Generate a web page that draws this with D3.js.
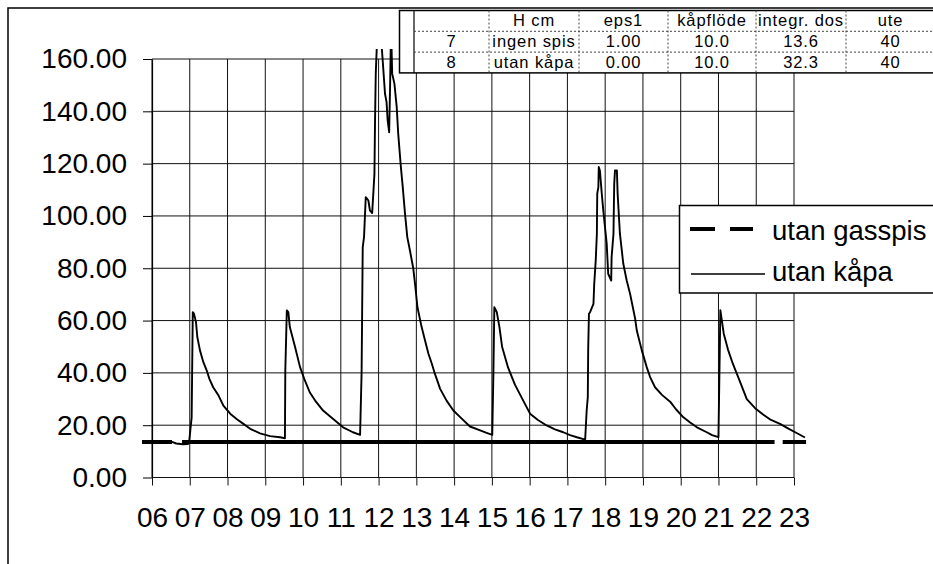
<!DOCTYPE html>
<html>
<head>
<meta charset="utf-8">
<script src="https://cdn.jsdelivr.net/npm/d3@7"></script>
<style>
  body { margin: 0; background: #fff; }
  svg { display: block; font-family: "Liberation Sans", Arial, sans-serif; }
</style>
</head>
<body>
<svg id="chart" width="933" height="564"></svg>
<script>
// ---- data ----
const hourTicks  = [6, 7, 8, 9, 10, 11, 12, 13, 14, 15, 16, 17, 18, 19, 20, 21, 22, 23];
const hourLabels = ["06","07","08","09","10","11","12","13","14","15","16","17","18","19","20","21","22","23"];
const levelTicks = [0, 20, 40, 60, 80, 100, 120, 140, 160];
const seriesNames = ["utan gasspis", "utan kåpa"];

// reference level without gas stove (null = break in the line)
const gasspisTime  = [5.735, 6.53, 6.66, 6.795, 22.485, 22.59, 22.70, 23.32];
const gasspisLevel = [13.6, 13.6, null, 13.6, 13.6, null, 13.6, 13.6];

// level without hood, hour of day
const kapaTime = [
  5.735, 6.53, 6.64, 6.82, 6.95, 6.985, 7.05, 7.08, 7.11, 7.165, 7.2, 7.27, 7.36, 7.45, 7.52,
  7.62, 7.76, 7.89, 8.07, 8.24, 8.42, 8.6, 8.86, 9.125, 9.39, 9.52, 9.53, 9.57, 9.61, 9.65,
  9.79, 9.92, 10.05, 10.18, 10.32, 10.53, 10.79, 11.06, 11.32, 11.51, 11.55, 11.58, 11.615,
  11.66, 11.73, 11.77, 11.83, 11.86, 11.89, 11.905, 11.925, 12.0, 12.17, 12.21, 12.24, 12.28,
  12.305, 12.33, 12.36, 12.42, 12.48, 12.52, 12.59, 12.64, 12.70, 12.76, 12.83, 12.92, 12.965,
  13.03, 13.14, 13.23, 13.32, 13.41, 13.49, 13.63, 13.80, 13.98, 14.16, 14.42, 14.69, 14.86,
  15.01, 15.04, 15.065, 15.13, 15.20, 15.27, 15.43, 15.61, 15.83, 16.01, 16.22, 16.45, 16.67,
  16.89, 17.07, 17.25, 17.47, 17.51, 17.54, 17.55, 17.57, 17.60, 17.69, 17.71, 17.75, 17.78,
  17.79, 17.82, 17.83, 17.86, 17.91, 17.95, 18.04, 18.08, 18.16, 18.17, 18.22, 18.23, 18.24,
  18.26, 18.31, 18.33, 18.39, 18.48, 18.57, 18.66, 18.79, 18.84, 18.97, 19.10, 19.19, 19.32,
  19.51, 19.72, 19.88, 20.07, 20.25, 20.43, 20.69, 20.83, 21.00, 21.02, 21.05, 21.09, 21.14,
  21.25, 21.38, 21.52, 21.75, 21.97, 22.19, 22.39, 22.63, 22.84, 23.07, 23.29
];
const kapaLevel = [
  13.6, 13.6, 13.0, 12.7, 12.8, 13.8, 23, 63.2, 62.7, 59.4, 53.7, 48.6, 44.1, 40.9, 37.7,
  34.5, 31.4, 27.5, 24.4, 22.4, 20.5, 18.6, 16.9, 15.8, 15.4, 15.0, 40.9, 63.9, 63.2, 57.5,
  49.8, 42.2, 37, 32.5, 29.4, 25.6, 22.5, 19.2, 17.3, 16.3, 40, 88, 92,
  107.2, 105.9, 102.1, 101.1, 108.5, 116.1, 135.3, 154.4, 182, 146.7, 143.6, 136.5, 132,
  150, 172, 154.4, 150.5, 141.6, 131.4, 118.7, 111, 100.8, 91.9, 86.8, 79.8, 74,
  65, 57.5, 52.4, 47.3, 43.5, 39.7, 33.9, 29.4, 25.6, 23.1, 19.5, 18.0, 17.1,
  16.3, 39.7, 65.1, 63.2, 57.5, 50, 42, 35.5, 29.4, 24.4, 22, 19.9, 18.4,
  17.3, 16.2, 15.4, 14.5, 25.6, 30.7, 48.6, 62.6, 63.2, 66.4, 74, 83, 93.2,
  108.5, 111, 118.7, 117.4, 108.5, 102.1, 89.4, 77.9, 75.3, 84.2, 93.2, 103.4, 112.3,
  117.4, 117.4, 108.5, 93.2, 81.7, 75.3, 70.2, 61, 56, 48.6, 42.2, 38.4, 34.5,
  31.5, 29.0, 26, 23, 21, 19.2, 17.3, 16.2, 15.4, 35, 64, 60, 55,
  49, 43.5, 38.5, 30, 26.5, 24.0, 22, 20.5, 18.8, 17.0, 15.3
];

// parameter table
const tableHeader = ["", "H cm", "eps1", "kåpflöde", "integr. dos", "ute"];
const tableRows = [
  ["7", "ingen spis", "1.00", "10.0", "13.6", "40"],
  ["8", "utan kåpa",  "0.00", "10.0", "32.3", "40"]
];

// ---- drawing ----
const FONT = "'Liberation Sans', Arial, sans-serif";
const svg = d3.select("#chart");

svg.append("rect").attr("width", 933).attr("height", 564).attr("fill", "#fff");

// outer frame
svg.append("rect")
  .attr("x", 8).attr("y", 8).attr("width", 1000).attr("height", 1000)
  .attr("fill", "none").attr("stroke", "#000").attr("stroke-width", 1.5);

const x = d3.scaleLinear().domain([6, 23]).range([152, 794]);
const y = d3.scaleLinear().domain([0, 160]).range([477.5, 59]);

// grid
const grid = svg.append("g").attr("stroke", "#111").attr("stroke-width", 1);
grid.selectAll("line.hgrid").data(levelTicks).join("line").attr("class", "hgrid")
  .attr("x1", x(6)).attr("x2", x(23))
  .attr("y1", d => y(d)).attr("y2", d => y(d));
grid.selectAll("line.vgrid").data(hourTicks).join("line").attr("class", "vgrid")
  .attr("x1", d => x(d)).attr("x2", d => x(d))
  .attr("y1", y(160)).attr("y2", y(0));

// y axis
const yAxis = d3.axisLeft(y).tickValues(levelTicks).tickFormat(d3.format(".2f"))
  .tickSize(9).tickSizeOuter(0).tickPadding(16);
svg.append("g").attr("transform", `translate(${x(6)},0)`).call(yAxis)
  .attr("font-size", 28).attr("font-family", FONT)
  .call(g => g.select(".domain").attr("stroke", "#000").attr("stroke-width", 1.2))
  .call(g => g.selectAll(".tick line").attr("stroke", "#000"))
  .call(g => g.selectAll(".tick text").attr("fill", "#000"));

// x axis
const xAxis = d3.axisBottom(x).tickValues(hourTicks).tickFormat((d, i) => hourLabels[i])
  .tickSize(8).tickSizeOuter(0);
svg.append("g").attr("transform", `translate(0,${y(0)})`).call(xAxis)
  .attr("font-size", 28).attr("font-family", FONT)
  .call(g => g.select(".domain").remove())
  .call(g => g.selectAll(".tick line").attr("stroke", "#111"))
  .call(g => g.selectAll(".tick text").attr("fill", "#000").attr("y", 29.5));

// clip for the series
svg.append("clipPath").attr("id", "plotClip")
  .append("rect").attr("x", 120).attr("y", 49).attr("width", 720).attr("height", 460);

const line = d3.line()
  .defined(d => d.v != null)
  .x(d => x(d.t))
  .y(d => y(d.v));

const gasspisData = gasspisTime.map((t, i) => ({ t, v: gasspisLevel[i] }));
const kapaData = kapaTime.map((t, i) => ({ t, v: kapaLevel[i] }));

svg.append("path").datum(gasspisData)
  .attr("clip-path", "url(#plotClip)")
  .attr("d", line).attr("fill", "none")
  .attr("stroke", "#000").attr("stroke-width", 4);

svg.append("path").datum(kapaData)
  .attr("clip-path", "url(#plotClip)")
  .attr("d", line).attr("fill", "none")
  .attr("stroke", "#000").attr("stroke-width", 1.9)
  .attr("stroke-linejoin", "round");

// legend
const legend = svg.append("g");
legend.append("rect")
  .attr("x", 679.5).attr("y", 205.5).attr("width", 300).attr("height", 87.5)
  .attr("fill", "#fff").attr("stroke", "#000").attr("stroke-width", 1.5);
legend.append("line")
  .attr("x1", 690).attr("x2", 753).attr("y1", 229).attr("y2", 229)
  .attr("stroke", "#000").attr("stroke-width", 4).attr("stroke-dasharray", "25 15");
legend.append("line")
  .attr("x1", 691).attr("x2", 765).attr("y1", 274).attr("y2", 274)
  .attr("stroke", "#000").attr("stroke-width", 1.5);
legend.selectAll("text").data(seriesNames).join("text")
  .attr("x", 772).attr("y", (d, i) => [240, 281][i])
  .attr("font-size", 27.5).attr("font-family", FONT).attr("fill", "#000")
  .text(d => d);

// parameter table
const colEdges = [414, 489, 579, 668, 756, 846, 935];
const rowTop = 10.5, rowH = 20.8;
const table = svg.append("g");
table.append("rect")
  .attr("x", 399.5).attr("y", rowTop).attr("width", 600).attr("height", rowH * 3)
  .attr("fill", "#fff").attr("stroke", "#000").attr("stroke-width", 1.5);
table.append("line")
  .attr("x1", colEdges[0]).attr("x2", colEdges[0])
  .attr("y1", rowTop).attr("y2", rowTop + rowH * 3)
  .attr("stroke", "#000").attr("stroke-width", 1.2);
table.selectAll("line.csep").data(colEdges.slice(1)).join("line").attr("class", "csep")
  .attr("x1", d => d).attr("x2", d => d)
  .attr("y1", rowTop).attr("y2", rowTop + rowH * 3)
  .attr("stroke", "#444").attr("stroke-width", 1).attr("stroke-dasharray", "2 2");
table.selectAll("line.rsep").data([1, 2]).join("line").attr("class", "rsep")
  .attr("x1", colEdges[0]).attr("x2", 933)
  .attr("y1", d => rowTop + rowH * d).attr("y2", d => rowTop + rowH * d)
  .attr("stroke", "#444").attr("stroke-width", 1).attr("stroke-dasharray", "2 2");

const allRows = [tableHeader, ...tableRows];
allRows.forEach((row, r) => {
  table.append("g").selectAll("text").data(row).join("text")
    .attr("x", (d, c) => (colEdges[c] + colEdges[c + 1]) / 2)
    .attr("y", rowTop + rowH * r + 15.5)
    .attr("text-anchor", "middle")
    .attr("font-size", 16.5).attr("font-family", FONT)
    .attr("letter-spacing", 0.9).attr("fill", "#000")
    .text(d => d);
});
</script>
</body>
</html>
